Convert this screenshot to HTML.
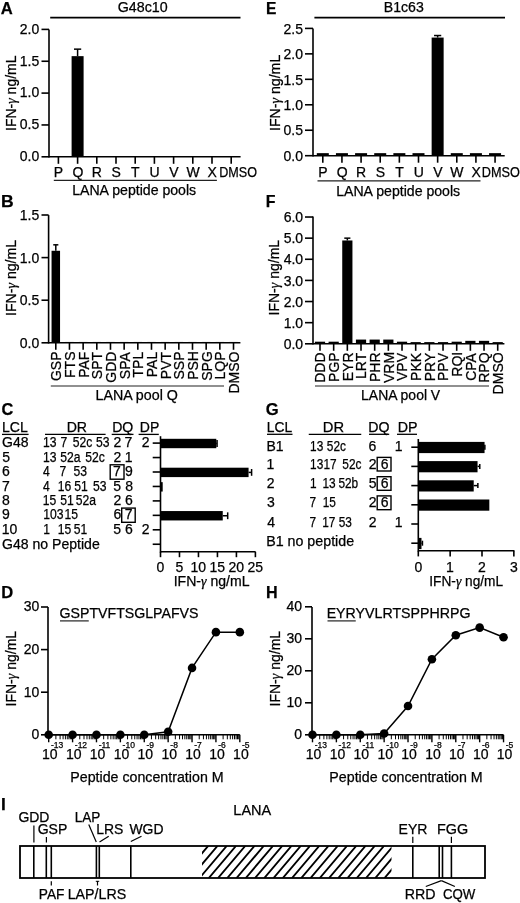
<!DOCTYPE html>
<html><head><meta charset="utf-8"><style>
html,body{margin:0;padding:0;background:#fff;}
svg{display:block;will-change:transform;}
text{font-family:"Liberation Sans",sans-serif;stroke:#000;stroke-width:0.25px;}
</style></head><body>
<svg width="520" height="903" viewBox="0 0 520 903" font-family="Liberation Sans, sans-serif" fill="#000">
<rect width="520" height="903" fill="#fff"/>
<text x="0.84" y="13.85" font-size="17" font-weight="bold" textLength="12.01" lengthAdjust="spacingAndGlyphs">A</text>
<text x="117.79" y="12.3" font-size="14" font-weight="normal" textLength="49.92" lengthAdjust="spacingAndGlyphs">G48c10</text>
<line x1="50.2" y1="17.6" x2="240.5" y2="17.6" stroke="#000" stroke-width="1.7"/>
<line x1="49" y1="29.4" x2="49" y2="157.6" stroke="#000" stroke-width="1.6"/>
<line x1="49" y1="156.8" x2="240.6" y2="156.8" stroke="#000" stroke-width="1.6"/>
<line x1="41.5" y1="29.4" x2="49" y2="29.4" stroke="#000" stroke-width="1.6"/>
<text x="19.8" y="33.7" font-size="14" font-weight="normal">2.0</text>
<line x1="41.5" y1="61.25" x2="49" y2="61.25" stroke="#000" stroke-width="1.6"/>
<text x="19.8" y="65.55" font-size="14" font-weight="normal">1.5</text>
<line x1="41.5" y1="93.1" x2="49" y2="93.1" stroke="#000" stroke-width="1.6"/>
<text x="19.8" y="97.4" font-size="14" font-weight="normal">1.0</text>
<line x1="41.5" y1="124.95" x2="49" y2="124.95" stroke="#000" stroke-width="1.6"/>
<text x="19.8" y="129.25" font-size="14" font-weight="normal">0.5</text>
<line x1="41.5" y1="156.8" x2="49" y2="156.8" stroke="#000" stroke-width="1.6"/>
<text x="19.8" y="161.1" font-size="14" font-weight="normal">0.0</text>
<line x1="58.4" y1="156.8" x2="58.4" y2="163.8" stroke="#000" stroke-width="1.6"/>
<rect x="52.4" y="156.48" width="12" height="0.32" fill="#000"/>
<line x1="77.6" y1="156.8" x2="77.6" y2="163.8" stroke="#000" stroke-width="1.6"/>
<rect x="71.6" y="56.15" width="12" height="100.65" fill="#000"/>
<line x1="77.6" y1="56.15" x2="77.6" y2="49.15" stroke="#000" stroke-width="1.5"/>
<line x1="74" y1="49.15" x2="81.2" y2="49.15" stroke="#000" stroke-width="1.5"/>
<line x1="96.8" y1="156.8" x2="96.8" y2="163.8" stroke="#000" stroke-width="1.6"/>
<rect x="90.8" y="156.48" width="12" height="0.32" fill="#000"/>
<line x1="116" y1="156.8" x2="116" y2="163.8" stroke="#000" stroke-width="1.6"/>
<rect x="110" y="156.48" width="12" height="0.32" fill="#000"/>
<line x1="135.2" y1="156.8" x2="135.2" y2="163.8" stroke="#000" stroke-width="1.6"/>
<rect x="129.2" y="156.48" width="12" height="0.32" fill="#000"/>
<line x1="154.4" y1="156.8" x2="154.4" y2="163.8" stroke="#000" stroke-width="1.6"/>
<rect x="148.4" y="156.48" width="12" height="0.32" fill="#000"/>
<line x1="173.6" y1="156.8" x2="173.6" y2="163.8" stroke="#000" stroke-width="1.6"/>
<rect x="167.6" y="156.48" width="12" height="0.32" fill="#000"/>
<line x1="192.8" y1="156.8" x2="192.8" y2="163.8" stroke="#000" stroke-width="1.6"/>
<rect x="186.8" y="156.48" width="12" height="0.32" fill="#000"/>
<line x1="212" y1="156.8" x2="212" y2="163.8" stroke="#000" stroke-width="1.6"/>
<rect x="206" y="156.48" width="12" height="0.32" fill="#000"/>
<line x1="231.2" y1="156.8" x2="231.2" y2="163.8" stroke="#000" stroke-width="1.6"/>
<rect x="225.2" y="156.48" width="12" height="0.32" fill="#000"/>
<text x="53.73" y="177.1" font-size="14" font-weight="normal">P</text>
<text x="72.38" y="177.1" font-size="14" font-weight="normal">Q</text>
<text x="91.72" y="177.1" font-size="14" font-weight="normal">R</text>
<text x="111.55" y="177.1" font-size="14" font-weight="normal">S</text>
<text x="131.09" y="177.1" font-size="14" font-weight="normal">T</text>
<text x="149.56" y="177.1" font-size="14" font-weight="normal">U</text>
<text x="169.14" y="177.1" font-size="14" font-weight="normal">V</text>
<text x="186.38" y="177.1" font-size="14" font-weight="normal">W</text>
<text x="207.51" y="177.1" font-size="14" font-weight="normal">X</text>
<text x="219.19" y="177.1" font-size="14" font-weight="normal" textLength="37.74" lengthAdjust="spacingAndGlyphs">DMSO</text>
<line x1="53.8" y1="180.4" x2="216.9" y2="180.4" stroke="#222" stroke-width="1.15"/>
<text x="72.17" y="194.5" font-size="14" font-weight="normal" textLength="124.02" lengthAdjust="spacingAndGlyphs">LANA peptide pools</text>
<text transform="translate(15.8,0) rotate(-90)" x="-130.93" y="0" font-size="14" textLength="75.36" lengthAdjust="spacingAndGlyphs">IFN-<tspan font-family="Liberation Serif" font-style="italic">γ</tspan> ng/mL</text>
<text x="266.09" y="13.8" font-size="17" font-weight="bold" textLength="10.39" lengthAdjust="spacingAndGlyphs">E</text>
<text x="383.77" y="12.3" font-size="14" font-weight="normal" textLength="39.97" lengthAdjust="spacingAndGlyphs">B1c63</text>
<line x1="314.4" y1="17.6" x2="505" y2="17.6" stroke="#000" stroke-width="1.7"/>
<line x1="313" y1="28.5" x2="313" y2="156.5" stroke="#000" stroke-width="1.6"/>
<line x1="313" y1="155.7" x2="504.7" y2="155.7" stroke="#000" stroke-width="1.6"/>
<line x1="305" y1="28.4" x2="313" y2="28.4" stroke="#000" stroke-width="1.6"/>
<text x="283.5" y="33.6" font-size="14" font-weight="normal">2.5</text>
<line x1="305" y1="53.86" x2="313" y2="53.86" stroke="#000" stroke-width="1.6"/>
<text x="283.5" y="59.06" font-size="14" font-weight="normal">2.0</text>
<line x1="305" y1="79.32" x2="313" y2="79.32" stroke="#000" stroke-width="1.6"/>
<text x="283.5" y="84.52" font-size="14" font-weight="normal">1.5</text>
<line x1="305" y1="104.78" x2="313" y2="104.78" stroke="#000" stroke-width="1.6"/>
<text x="283.5" y="109.98" font-size="14" font-weight="normal">1.0</text>
<line x1="305" y1="130.24" x2="313" y2="130.24" stroke="#000" stroke-width="1.6"/>
<text x="283.5" y="135.44" font-size="14" font-weight="normal">0.5</text>
<line x1="305" y1="155.7" x2="313" y2="155.7" stroke="#000" stroke-width="1.6"/>
<text x="283.5" y="160.9" font-size="14" font-weight="normal">0.0</text>
<line x1="322.8" y1="155.7" x2="322.8" y2="162.7" stroke="#000" stroke-width="1.6"/>
<rect x="316.8" y="153.15" width="12" height="2.55" fill="#000"/>
<line x1="341.94" y1="155.7" x2="341.94" y2="162.7" stroke="#000" stroke-width="1.6"/>
<rect x="335.94" y="153.15" width="12" height="2.55" fill="#000"/>
<line x1="361.08" y1="155.7" x2="361.08" y2="162.7" stroke="#000" stroke-width="1.6"/>
<rect x="355.08" y="153.15" width="12" height="2.55" fill="#000"/>
<line x1="380.22" y1="155.7" x2="380.22" y2="162.7" stroke="#000" stroke-width="1.6"/>
<rect x="374.22" y="153.15" width="12" height="2.55" fill="#000"/>
<line x1="399.36" y1="155.7" x2="399.36" y2="162.7" stroke="#000" stroke-width="1.6"/>
<rect x="393.36" y="153.15" width="12" height="2.55" fill="#000"/>
<line x1="418.5" y1="155.7" x2="418.5" y2="162.7" stroke="#000" stroke-width="1.6"/>
<rect x="412.5" y="153.15" width="12" height="2.55" fill="#000"/>
<line x1="437.64" y1="155.7" x2="437.64" y2="162.7" stroke="#000" stroke-width="1.6"/>
<rect x="431.64" y="37.57" width="12" height="118.13" fill="#000"/>
<line x1="437.64" y1="37.57" x2="437.64" y2="35.53" stroke="#000" stroke-width="1.5"/>
<line x1="434.04" y1="35.53" x2="441.24" y2="35.53" stroke="#000" stroke-width="1.5"/>
<line x1="456.78" y1="155.7" x2="456.78" y2="162.7" stroke="#000" stroke-width="1.6"/>
<rect x="450.78" y="153.15" width="12" height="2.55" fill="#000"/>
<line x1="475.92" y1="155.7" x2="475.92" y2="162.7" stroke="#000" stroke-width="1.6"/>
<rect x="469.92" y="153.15" width="12" height="2.55" fill="#000"/>
<line x1="495.06" y1="155.7" x2="495.06" y2="162.7" stroke="#000" stroke-width="1.6"/>
<rect x="489.06" y="153.15" width="12" height="2.55" fill="#000"/>
<text x="318.13" y="177.1" font-size="14" font-weight="normal">P</text>
<text x="336.71" y="177.1" font-size="14" font-weight="normal">Q</text>
<text x="356" y="177.1" font-size="14" font-weight="normal">R</text>
<text x="375.77" y="177.1" font-size="14" font-weight="normal">S</text>
<text x="395.25" y="177.1" font-size="14" font-weight="normal">T</text>
<text x="413.66" y="177.1" font-size="14" font-weight="normal">U</text>
<text x="433.19" y="177.1" font-size="14" font-weight="normal">V</text>
<text x="450.37" y="177.1" font-size="14" font-weight="normal">W</text>
<text x="471.43" y="177.1" font-size="14" font-weight="normal">X</text>
<text x="481.79" y="177.1" font-size="14" font-weight="normal" textLength="38.05" lengthAdjust="spacingAndGlyphs">DMSO</text>
<line x1="317.5" y1="180.8" x2="480.5" y2="180.8" stroke="#222" stroke-width="1.15"/>
<text x="336.17" y="195.5" font-size="14" font-weight="normal" textLength="124.02" lengthAdjust="spacingAndGlyphs">LANA peptide pools</text>
<text transform="translate(280.3,0) rotate(-90)" x="-130.95" y="0" font-size="14" textLength="76.18" lengthAdjust="spacingAndGlyphs">IFN-<tspan font-family="Liberation Serif" font-style="italic">γ</tspan> ng/mL</text>
<text x="1.06" y="206.9" font-size="17" font-weight="bold" textLength="12.67" lengthAdjust="spacingAndGlyphs">B</text>
<line x1="48.6" y1="215.1" x2="48.6" y2="343.6" stroke="#000" stroke-width="1.6"/>
<line x1="48.6" y1="342.8" x2="240.4" y2="342.8" stroke="#000" stroke-width="1.6"/>
<line x1="41.5" y1="215" x2="48.6" y2="215" stroke="#000" stroke-width="1.6"/>
<text x="19.8" y="220.1" font-size="14" font-weight="normal">1.5</text>
<line x1="41.5" y1="257.6" x2="48.6" y2="257.6" stroke="#000" stroke-width="1.6"/>
<text x="19.8" y="262.7" font-size="14" font-weight="normal">1.0</text>
<line x1="41.5" y1="300.2" x2="48.6" y2="300.2" stroke="#000" stroke-width="1.6"/>
<text x="19.8" y="305.3" font-size="14" font-weight="normal">0.5</text>
<line x1="41.5" y1="342.8" x2="48.6" y2="342.8" stroke="#000" stroke-width="1.6"/>
<text x="19.8" y="347.9" font-size="14" font-weight="normal">0.0</text>
<line x1="55.8" y1="342.8" x2="55.8" y2="349.8" stroke="#000" stroke-width="1.6"/>
<rect x="51.55" y="250.78" width="8.5" height="92.02" fill="#000"/>
<line x1="55.8" y1="250.78" x2="55.8" y2="244.82" stroke="#000" stroke-width="1.5"/>
<line x1="53.25" y1="244.82" x2="58.35" y2="244.82" stroke="#000" stroke-width="1.5"/>
<line x1="69.47" y1="342.8" x2="69.47" y2="349.8" stroke="#000" stroke-width="1.6"/>
<rect x="65.22" y="341.95" width="8.5" height="0.85" fill="#000"/>
<line x1="83.14" y1="342.8" x2="83.14" y2="349.8" stroke="#000" stroke-width="1.6"/>
<rect x="78.89" y="341.95" width="8.5" height="0.85" fill="#000"/>
<line x1="96.81" y1="342.8" x2="96.81" y2="349.8" stroke="#000" stroke-width="1.6"/>
<rect x="92.56" y="341.95" width="8.5" height="0.85" fill="#000"/>
<line x1="110.48" y1="342.8" x2="110.48" y2="349.8" stroke="#000" stroke-width="1.6"/>
<rect x="106.23" y="341.95" width="8.5" height="0.85" fill="#000"/>
<line x1="124.15" y1="342.8" x2="124.15" y2="349.8" stroke="#000" stroke-width="1.6"/>
<rect x="119.9" y="341.95" width="8.5" height="0.85" fill="#000"/>
<line x1="137.82" y1="342.8" x2="137.82" y2="349.8" stroke="#000" stroke-width="1.6"/>
<rect x="133.57" y="341.95" width="8.5" height="0.85" fill="#000"/>
<line x1="151.49" y1="342.8" x2="151.49" y2="349.8" stroke="#000" stroke-width="1.6"/>
<rect x="147.24" y="341.95" width="8.5" height="0.85" fill="#000"/>
<line x1="165.16" y1="342.8" x2="165.16" y2="349.8" stroke="#000" stroke-width="1.6"/>
<rect x="160.91" y="341.95" width="8.5" height="0.85" fill="#000"/>
<line x1="178.83" y1="342.8" x2="178.83" y2="349.8" stroke="#000" stroke-width="1.6"/>
<rect x="174.58" y="341.95" width="8.5" height="0.85" fill="#000"/>
<line x1="192.5" y1="342.8" x2="192.5" y2="349.8" stroke="#000" stroke-width="1.6"/>
<rect x="188.25" y="341.95" width="8.5" height="0.85" fill="#000"/>
<line x1="206.17" y1="342.8" x2="206.17" y2="349.8" stroke="#000" stroke-width="1.6"/>
<rect x="201.92" y="341.95" width="8.5" height="0.85" fill="#000"/>
<line x1="219.84" y1="342.8" x2="219.84" y2="349.8" stroke="#000" stroke-width="1.6"/>
<rect x="215.59" y="341.95" width="8.5" height="0.85" fill="#000"/>
<line x1="233.51" y1="342.8" x2="233.51" y2="349.8" stroke="#000" stroke-width="1.6"/>
<rect x="229.26" y="341.95" width="8.5" height="0.85" fill="#000"/>
<text transform="translate(61.2,0) rotate(-90)" x="-381.04" y="0" font-size="14">GSP</text>
<text transform="translate(74.87,0) rotate(-90)" x="-377.96" y="0" font-size="14">FTS</text>
<text transform="translate(88.54,0) rotate(-90)" x="-377.82" y="0" font-size="14">PAF</text>
<text transform="translate(102.21,0) rotate(-90)" x="-379.15" y="0" font-size="14">SPT</text>
<text transform="translate(115.88,0) rotate(-90)" x="-382.65" y="0" font-size="14">GDD</text>
<text transform="translate(129.55,0) rotate(-90)" x="-379.15" y="0" font-size="14">SPA</text>
<text transform="translate(143.22,0) rotate(-90)" x="-377.47" y="0" font-size="14">TPL</text>
<text transform="translate(156.89,0) rotate(-90)" x="-377.19" y="0" font-size="14">PAL</text>
<text transform="translate(170.56,0) rotate(-90)" x="-379.15" y="0" font-size="14">PVT</text>
<text transform="translate(184.23,0) rotate(-90)" x="-379.5" y="0" font-size="14">SSP</text>
<text transform="translate(197.9,0) rotate(-90)" x="-379.85" y="0" font-size="14">PSH</text>
<text transform="translate(211.57,0) rotate(-90)" x="-380.76" y="0" font-size="14">SPG</text>
<text transform="translate(225.24,0) rotate(-90)" x="-379.5" y="0" font-size="14">LQP</text>
<text transform="translate(238.91,0) rotate(-90)" x="-393.5" y="0" font-size="14">DMSO</text>
<line x1="50.8" y1="386" x2="224" y2="386" stroke="#222" stroke-width="1.15"/>
<text x="95.46" y="400.4" font-size="14" font-weight="normal" textLength="82.4" lengthAdjust="spacingAndGlyphs">LANA pool Q</text>
<text transform="translate(16,0) rotate(-90)" x="-315.94" y="0" font-size="14" textLength="76.07" lengthAdjust="spacingAndGlyphs">IFN-<tspan font-family="Liberation Serif" font-style="italic">γ</tspan> ng/mL</text>
<text x="265.77" y="206.9" font-size="17" font-weight="bold" textLength="9.7" lengthAdjust="spacingAndGlyphs">F</text>
<line x1="313" y1="216.5" x2="313" y2="344.6" stroke="#000" stroke-width="1.6"/>
<line x1="313" y1="343.8" x2="504.4" y2="343.8" stroke="#000" stroke-width="1.6"/>
<line x1="305" y1="217.02" x2="313" y2="217.02" stroke="#000" stroke-width="1.6"/>
<text x="283.7" y="222.12" font-size="14" font-weight="normal">6.0</text>
<line x1="305" y1="238.15" x2="313" y2="238.15" stroke="#000" stroke-width="1.6"/>
<text x="283.7" y="243.25" font-size="14" font-weight="normal">5.0</text>
<line x1="305" y1="259.28" x2="313" y2="259.28" stroke="#000" stroke-width="1.6"/>
<text x="283.7" y="264.38" font-size="14" font-weight="normal">4.0</text>
<line x1="305" y1="280.41" x2="313" y2="280.41" stroke="#000" stroke-width="1.6"/>
<text x="283.7" y="285.51" font-size="14" font-weight="normal">3.0</text>
<line x1="305" y1="301.54" x2="313" y2="301.54" stroke="#000" stroke-width="1.6"/>
<text x="283.7" y="306.64" font-size="14" font-weight="normal">2.0</text>
<line x1="305" y1="322.67" x2="313" y2="322.67" stroke="#000" stroke-width="1.6"/>
<text x="283.7" y="327.77" font-size="14" font-weight="normal">1.0</text>
<line x1="305" y1="343.8" x2="313" y2="343.8" stroke="#000" stroke-width="1.6"/>
<text x="283.7" y="348.9" font-size="14" font-weight="normal">0.0</text>
<line x1="320" y1="343.8" x2="320" y2="350.8" stroke="#000" stroke-width="1.6"/>
<rect x="314.9" y="341.69" width="10.2" height="2.11" fill="#000"/>
<line x1="333.67" y1="343.8" x2="333.67" y2="350.8" stroke="#000" stroke-width="1.6"/>
<rect x="328.57" y="341.69" width="10.2" height="2.11" fill="#000"/>
<line x1="347.34" y1="343.8" x2="347.34" y2="350.8" stroke="#000" stroke-width="1.6"/>
<rect x="342.24" y="240.47" width="10.2" height="103.33" fill="#000"/>
<line x1="347.34" y1="240.47" x2="347.34" y2="238.15" stroke="#000" stroke-width="1.5"/>
<line x1="344.28" y1="238.15" x2="350.4" y2="238.15" stroke="#000" stroke-width="1.5"/>
<line x1="361.01" y1="343.8" x2="361.01" y2="350.8" stroke="#000" stroke-width="1.6"/>
<rect x="355.91" y="339.57" width="10.2" height="4.23" fill="#000"/>
<line x1="374.68" y1="343.8" x2="374.68" y2="350.8" stroke="#000" stroke-width="1.6"/>
<rect x="369.58" y="339.57" width="10.2" height="4.23" fill="#000"/>
<line x1="388.35" y1="343.8" x2="388.35" y2="350.8" stroke="#000" stroke-width="1.6"/>
<rect x="383.25" y="339.57" width="10.2" height="4.23" fill="#000"/>
<line x1="402.02" y1="343.8" x2="402.02" y2="350.8" stroke="#000" stroke-width="1.6"/>
<rect x="396.92" y="341.69" width="10.2" height="2.11" fill="#000"/>
<line x1="415.69" y1="343.8" x2="415.69" y2="350.8" stroke="#000" stroke-width="1.6"/>
<rect x="410.59" y="342.11" width="10.2" height="1.69" fill="#000"/>
<line x1="429.36" y1="343.8" x2="429.36" y2="350.8" stroke="#000" stroke-width="1.6"/>
<rect x="424.26" y="342.11" width="10.2" height="1.69" fill="#000"/>
<line x1="443.03" y1="343.8" x2="443.03" y2="350.8" stroke="#000" stroke-width="1.6"/>
<rect x="437.93" y="342.11" width="10.2" height="1.69" fill="#000"/>
<line x1="456.7" y1="343.8" x2="456.7" y2="350.8" stroke="#000" stroke-width="1.6"/>
<rect x="451.6" y="341.69" width="10.2" height="2.11" fill="#000"/>
<line x1="470.37" y1="343.8" x2="470.37" y2="350.8" stroke="#000" stroke-width="1.6"/>
<rect x="465.27" y="340.84" width="10.2" height="2.96" fill="#000"/>
<line x1="484.04" y1="343.8" x2="484.04" y2="350.8" stroke="#000" stroke-width="1.6"/>
<rect x="478.94" y="340.84" width="10.2" height="2.96" fill="#000"/>
<line x1="497.71" y1="343.8" x2="497.71" y2="350.8" stroke="#000" stroke-width="1.6"/>
<rect x="492.61" y="342.11" width="10.2" height="1.69" fill="#000"/>
<text transform="translate(325.4,0) rotate(-90)" x="-382.78" y="0" font-size="14">DDD</text>
<text transform="translate(339.07,0) rotate(-90)" x="-381.94" y="0" font-size="14">PGP</text>
<text transform="translate(352.74,0) rotate(-90)" x="-381.24" y="0" font-size="14">EYR</text>
<text transform="translate(366.41,0) rotate(-90)" x="-379" y="0" font-size="14">LRT</text>
<text transform="translate(380.08,0) rotate(-90)" x="-382.01" y="0" font-size="14">PHR</text>
<text transform="translate(393.75,0) rotate(-90)" x="-383.06" y="0" font-size="14">VRM</text>
<text transform="translate(407.42,0) rotate(-90)" x="-381.03" y="0" font-size="14">VPV</text>
<text transform="translate(421.09,0) rotate(-90)" x="-380.96" y="0" font-size="14">PKK</text>
<text transform="translate(434.76,0) rotate(-90)" x="-381.31" y="0" font-size="14">PRY</text>
<text transform="translate(448.43,0) rotate(-90)" x="-381.03" y="0" font-size="14">PPV</text>
<text transform="translate(462.1,0) rotate(-90)" x="-376.69" y="0" font-size="14">RQI</text>
<text transform="translate(475.77,0) rotate(-90)" x="-380.82" y="0" font-size="14">CPA</text>
<text transform="translate(489.44,0) rotate(-90)" x="-382.78" y="0" font-size="14">RPQ</text>
<text transform="translate(503.11,0) rotate(-90)" x="-394.4" y="0" font-size="14">DMSO</text>
<line x1="315" y1="386" x2="489" y2="386" stroke="#222" stroke-width="1.15"/>
<text x="361.08" y="400.2" font-size="14" font-weight="normal" textLength="79.09" lengthAdjust="spacingAndGlyphs">LANA pool V</text>
<text transform="translate(279.3,0) rotate(-90)" x="-315.44" y="0" font-size="14" textLength="75.56" lengthAdjust="spacingAndGlyphs">IFN-<tspan font-family="Liberation Serif" font-style="italic">γ</tspan> ng/mL</text>
<text x="1.5" y="414.5" font-size="17" font-weight="bold" textLength="11.8" lengthAdjust="spacingAndGlyphs">C</text>
<text x="1.97" y="431.6" font-size="14" font-weight="normal" textLength="25.84" lengthAdjust="spacingAndGlyphs">LCL</text>
<line x1="2" y1="434.4" x2="28.6" y2="434.4" stroke="#000" stroke-width="1.3"/>
<text x="66.67" y="431.6" font-size="14" font-weight="normal" textLength="20.43" lengthAdjust="spacingAndGlyphs">DR</text>
<line x1="45" y1="434.4" x2="105.6" y2="434.4" stroke="#000" stroke-width="1.3"/>
<text x="112.17" y="431.6" font-size="14" font-weight="normal" textLength="21.13" lengthAdjust="spacingAndGlyphs">DQ</text>
<line x1="111.7" y1="434.4" x2="133.5" y2="434.4" stroke="#000" stroke-width="1.3"/>
<text x="139.78" y="431.6" font-size="14" font-weight="normal" textLength="19.48" lengthAdjust="spacingAndGlyphs">DP</text>
<line x1="138.6" y1="434.4" x2="158.8" y2="434.4" stroke="#000" stroke-width="1.3"/>
<text x="2" y="447.3" font-size="14" font-weight="normal">G48</text>
<text x="42.98" y="447.3" font-size="13.8" textLength="13.51" lengthAdjust="spacingAndGlyphs">13</text>
<text x="60.53" y="447.3" font-size="13.8" textLength="6.75" lengthAdjust="spacingAndGlyphs">7</text>
<text x="72.63" y="447.3" font-size="13.8" textLength="19.58" lengthAdjust="spacingAndGlyphs">52c</text>
<text x="95.99" y="447.3" font-size="13.8" textLength="13.51" lengthAdjust="spacingAndGlyphs">53</text>
<text x="113.61" y="447.3" font-size="14">2</text>
<text x="124.61" y="447.3" font-size="14">7</text>
<text x="141.77" y="447.3" font-size="14">2</text>
<text x="2.14" y="461.7" font-size="14" font-weight="normal">5</text>
<text x="42.98" y="461.7" font-size="13.8" textLength="13.51" lengthAdjust="spacingAndGlyphs">13</text>
<text x="60.15" y="461.7" font-size="13.8" textLength="20.26" lengthAdjust="spacingAndGlyphs">52a</text>
<text x="85.18" y="461.7" font-size="13.8" textLength="19.58" lengthAdjust="spacingAndGlyphs">52c</text>
<text x="113.61" y="461.7" font-size="14">2</text>
<text x="124.64" y="461.7" font-size="14">1</text>
<text x="2" y="476.3" font-size="14" font-weight="normal">6</text>
<text x="42.91" y="476.3" font-size="13.8" textLength="6.75" lengthAdjust="spacingAndGlyphs">4</text>
<text x="59.48" y="476.3" font-size="13.8" textLength="6.75" lengthAdjust="spacingAndGlyphs">7</text>
<text x="73.44" y="476.3" font-size="13.8" textLength="13.51" lengthAdjust="spacingAndGlyphs">53</text>
<text x="113.02" y="476.3" font-size="14">7</text>
<text x="124.92" y="476.3" font-size="14">9</text>
<text x="2" y="490.8" font-size="14" font-weight="normal">7</text>
<text x="42.91" y="490.8" font-size="13.8" textLength="6.75" lengthAdjust="spacingAndGlyphs">4</text>
<text x="57.68" y="490.8" font-size="13.8" textLength="13.51" lengthAdjust="spacingAndGlyphs">16</text>
<text x="74.17" y="490.8" font-size="13.8" textLength="13.51" lengthAdjust="spacingAndGlyphs">51</text>
<text x="93.04" y="490.8" font-size="13.8" textLength="13.51" lengthAdjust="spacingAndGlyphs">53</text>
<text x="113.27" y="490.8" font-size="14">5</text>
<text x="125.13" y="490.8" font-size="14">8</text>
<text x="2.07" y="505.2" font-size="14" font-weight="normal">8</text>
<text x="42.75" y="505.2" font-size="13.8" textLength="13.51" lengthAdjust="spacingAndGlyphs">15</text>
<text x="60.32" y="505.2" font-size="13.8" textLength="13.51" lengthAdjust="spacingAndGlyphs">51</text>
<text x="75.7" y="505.2" font-size="13.8" textLength="20.26" lengthAdjust="spacingAndGlyphs">52a</text>
<text x="113.61" y="505.2" font-size="14">2</text>
<text x="125.03" y="505.2" font-size="14">6</text>
<text x="2.07" y="519.2" font-size="14" font-weight="normal">9</text>
<text x="43.26" y="519.2" font-size="13.8" textLength="20.26" lengthAdjust="spacingAndGlyphs">103</text>
<text x="64.55" y="519.2" font-size="13.8" textLength="13.51" lengthAdjust="spacingAndGlyphs">15</text>
<text x="113.53" y="519.2" font-size="14">6</text>
<text x="124.77" y="519.2" font-size="14">7</text>
<text x="1.65" y="533.8" font-size="14" font-weight="normal">10</text>
<text x="43.23" y="533.8" font-size="13.8" textLength="6.75" lengthAdjust="spacingAndGlyphs">1</text>
<text x="57.85" y="533.8" font-size="13.8" textLength="13.51" lengthAdjust="spacingAndGlyphs">15</text>
<text x="73.87" y="533.8" font-size="13.8" textLength="13.51" lengthAdjust="spacingAndGlyphs">51</text>
<text x="113.31" y="533.8" font-size="14">5</text>
<text x="125.03" y="533.8" font-size="14">6</text>
<text x="141.77" y="533.8" font-size="14">2</text>
<rect x="110.2" y="464.8" width="13.8" height="14.4" fill="none" stroke="#000" stroke-width="1.4"/>
<rect x="121.7" y="508.1" width="13.5" height="14.2" fill="none" stroke="#000" stroke-width="1.4"/>
<text x="2.1" y="548.8" font-size="14" font-weight="normal" textLength="97.63" lengthAdjust="spacingAndGlyphs">G48 no Peptide</text>
<line x1="160.5" y1="436.2" x2="160.5" y2="552.6" stroke="#000" stroke-width="1.6"/>
<line x1="160.5" y1="551.8" x2="255.6" y2="551.8" stroke="#000" stroke-width="1.6"/>
<line x1="152.7" y1="443.1" x2="160.5" y2="443.1" stroke="#000" stroke-width="1.6"/>
<line x1="152.7" y1="457.55" x2="160.5" y2="457.55" stroke="#000" stroke-width="1.6"/>
<line x1="152.7" y1="472" x2="160.5" y2="472" stroke="#000" stroke-width="1.6"/>
<line x1="152.7" y1="486.45" x2="160.5" y2="486.45" stroke="#000" stroke-width="1.6"/>
<line x1="152.7" y1="500.9" x2="160.5" y2="500.9" stroke="#000" stroke-width="1.6"/>
<line x1="152.7" y1="515.35" x2="160.5" y2="515.35" stroke="#000" stroke-width="1.6"/>
<line x1="152.7" y1="529.8" x2="160.5" y2="529.8" stroke="#000" stroke-width="1.6"/>
<line x1="152.7" y1="544.25" x2="160.5" y2="544.25" stroke="#000" stroke-width="1.6"/>
<rect x="160.5" y="438.8" width="55.8" height="9.4" fill="#000"/>
<line x1="216.3" y1="443.5" x2="217.06" y2="443.5" stroke="#000" stroke-width="1.5"/>
<line x1="217.06" y1="440.1" x2="217.06" y2="446.9" stroke="#000" stroke-width="1.5"/>
<rect x="160.5" y="467.7" width="88.07" height="9.4" fill="#000"/>
<line x1="248.57" y1="472.4" x2="251.6" y2="472.4" stroke="#000" stroke-width="1.5"/>
<line x1="251.6" y1="469" x2="251.6" y2="475.8" stroke="#000" stroke-width="1.5"/>
<rect x="160.5" y="482.15" width="2.2" height="9.4" fill="#000"/>
<rect x="160.5" y="511.05" width="62.25" height="9.4" fill="#000"/>
<line x1="222.75" y1="515.75" x2="227.69" y2="515.75" stroke="#000" stroke-width="1.5"/>
<line x1="227.69" y1="512.35" x2="227.69" y2="519.15" stroke="#000" stroke-width="1.5"/>
<line x1="160.5" y1="551.8" x2="160.5" y2="557.2" stroke="#000" stroke-width="1.6"/>
<text x="156.62" y="571.8" font-size="14" font-weight="normal">0</text>
<line x1="179.48" y1="551.8" x2="179.48" y2="557.2" stroke="#000" stroke-width="1.6"/>
<text x="175.59" y="571.8" font-size="14" font-weight="normal">5</text>
<line x1="198.46" y1="551.8" x2="198.46" y2="557.2" stroke="#000" stroke-width="1.6"/>
<text x="190.44" y="571.8" font-size="14" font-weight="normal">10</text>
<line x1="217.44" y1="551.8" x2="217.44" y2="557.2" stroke="#000" stroke-width="1.6"/>
<text x="209.43" y="571.8" font-size="14" font-weight="normal">15</text>
<line x1="236.42" y1="551.8" x2="236.42" y2="557.2" stroke="#000" stroke-width="1.6"/>
<text x="228.58" y="571.8" font-size="14" font-weight="normal">20</text>
<line x1="255.4" y1="551.8" x2="255.4" y2="557.2" stroke="#000" stroke-width="1.6"/>
<text x="247.56" y="571.8" font-size="14" font-weight="normal">25</text>
<text x="173.66" y="586" font-size="14" font-weight="normal" textLength="75.87" lengthAdjust="spacingAndGlyphs">IFN-<tspan font-family="Liberation Serif" font-style="italic">γ</tspan> ng/mL</text>
<text x="265.84" y="414.8" font-size="17" font-weight="bold" textLength="12.91" lengthAdjust="spacingAndGlyphs">G</text>
<text x="266.69" y="431.9" font-size="14" font-weight="normal" textLength="25.42" lengthAdjust="spacingAndGlyphs">LCL</text>
<line x1="267" y1="434.3" x2="292.5" y2="434.3" stroke="#000" stroke-width="1.3"/>
<text x="322.87" y="431.9" font-size="14" font-weight="normal" textLength="21.31" lengthAdjust="spacingAndGlyphs">DR</text>
<line x1="308.75" y1="434.3" x2="361.25" y2="434.3" stroke="#000" stroke-width="1.3"/>
<text x="368.37" y="431.9" font-size="14" font-weight="normal" textLength="21.24" lengthAdjust="spacingAndGlyphs">DQ</text>
<line x1="369" y1="434.3" x2="389.2" y2="434.3" stroke="#000" stroke-width="1.3"/>
<text x="397.66" y="431.9" font-size="14" font-weight="normal" textLength="19.81" lengthAdjust="spacingAndGlyphs">DP</text>
<line x1="397" y1="434.3" x2="417" y2="434.3" stroke="#000" stroke-width="1.3"/>
<text x="266.38" y="450.5" font-size="14" font-weight="normal">B1</text>
<text x="310.09" y="450.5" font-size="13.8" textLength="13.2" lengthAdjust="spacingAndGlyphs">13</text>
<text x="326.86" y="450.5" font-size="13.8" textLength="19.14" lengthAdjust="spacingAndGlyphs">52c</text>
<text x="368.53" y="450.5" font-size="14">6</text>
<text x="394.79" y="450.5" font-size="14">1</text>
<text x="266.45" y="469.1" font-size="14" font-weight="normal">1</text>
<text x="310.09" y="469.1" font-size="13.8" textLength="13.2" lengthAdjust="spacingAndGlyphs">13</text>
<text x="323.41" y="469.1" font-size="13.8" textLength="13.2" lengthAdjust="spacingAndGlyphs">17</text>
<text x="342.36" y="469.1" font-size="13.8" textLength="19.14" lengthAdjust="spacingAndGlyphs">52c</text>
<text x="368.81" y="469.1" font-size="14">2</text>
<text x="380.63" y="469.1" font-size="14">6</text>
<text x="266.8" y="488.1" font-size="14" font-weight="normal">2</text>
<text x="310.06" y="488.1" font-size="13.8" textLength="6.6" lengthAdjust="spacingAndGlyphs">1</text>
<text x="322.49" y="488.1" font-size="13.8" textLength="13.2" lengthAdjust="spacingAndGlyphs">13</text>
<text x="338.42" y="488.1" font-size="13.8" textLength="19.8" lengthAdjust="spacingAndGlyphs">52b</text>
<text x="368.72" y="488.1" font-size="14">5</text>
<text x="380.63" y="488.1" font-size="14">6</text>
<text x="266.94" y="507.3" font-size="14" font-weight="normal">3</text>
<text x="309.46" y="507.3" font-size="13.8" textLength="6.6" lengthAdjust="spacingAndGlyphs">7</text>
<text x="322.76" y="507.3" font-size="13.8" textLength="13.2" lengthAdjust="spacingAndGlyphs">15</text>
<text x="368.81" y="507.3" font-size="14">2</text>
<text x="380.63" y="507.3" font-size="14">6</text>
<text x="267.15" y="526.6" font-size="14" font-weight="normal">4</text>
<text x="309.46" y="526.6" font-size="13.8" textLength="6.6" lengthAdjust="spacingAndGlyphs">7</text>
<text x="322.21" y="526.6" font-size="13.8" textLength="13.2" lengthAdjust="spacingAndGlyphs">17</text>
<text x="338.69" y="526.6" font-size="13.8" textLength="13.2" lengthAdjust="spacingAndGlyphs">53</text>
<text x="368.81" y="526.6" font-size="14">2</text>
<text x="394.79" y="526.6" font-size="14">1</text>
<rect x="377.2" y="457.4" width="13.8" height="13.6" fill="none" stroke="#000" stroke-width="1.4"/>
<rect x="377.2" y="476.7" width="13.8" height="13.6" fill="none" stroke="#000" stroke-width="1.4"/>
<rect x="377.2" y="495.9" width="13.8" height="13.8" fill="none" stroke="#000" stroke-width="1.4"/>
<text x="266.16" y="545.5" font-size="14" font-weight="normal" textLength="87.96" lengthAdjust="spacingAndGlyphs">B1 no peptide</text>
<line x1="418.3" y1="439" x2="418.3" y2="551.6" stroke="#000" stroke-width="1.6"/>
<line x1="418.3" y1="550.8" x2="514.4" y2="550.8" stroke="#000" stroke-width="1.6"/>
<line x1="411.3" y1="447.2" x2="418.3" y2="447.2" stroke="#000" stroke-width="1.6"/>
<line x1="411.3" y1="466.4" x2="418.3" y2="466.4" stroke="#000" stroke-width="1.6"/>
<line x1="411.3" y1="485.6" x2="418.3" y2="485.6" stroke="#000" stroke-width="1.6"/>
<line x1="411.3" y1="504.8" x2="418.3" y2="504.8" stroke="#000" stroke-width="1.6"/>
<line x1="411.3" y1="524" x2="418.3" y2="524" stroke="#000" stroke-width="1.6"/>
<line x1="411.3" y1="543.2" x2="418.3" y2="543.2" stroke="#000" stroke-width="1.6"/>
<rect x="418.3" y="441.9" width="66.25" height="11.2" fill="#000"/>
<line x1="484.55" y1="447.2" x2="484.87" y2="447.2" stroke="#000" stroke-width="1.5"/>
<line x1="484.87" y1="444.7" x2="484.87" y2="449.7" stroke="#000" stroke-width="1.5"/>
<rect x="418.3" y="461.1" width="59.24" height="11.2" fill="#000"/>
<line x1="477.54" y1="466.4" x2="479.77" y2="466.4" stroke="#000" stroke-width="1.5"/>
<line x1="479.77" y1="463.9" x2="479.77" y2="468.9" stroke="#000" stroke-width="1.5"/>
<rect x="418.3" y="480.3" width="55.42" height="11.2" fill="#000"/>
<line x1="473.72" y1="485.6" x2="477.86" y2="485.6" stroke="#000" stroke-width="1.5"/>
<line x1="477.86" y1="483.1" x2="477.86" y2="488.1" stroke="#000" stroke-width="1.5"/>
<rect x="418.3" y="499.5" width="71.03" height="11.2" fill="#000"/>
<rect x="418.3" y="537.9" width="3.19" height="11.2" fill="#000"/>
<line x1="421.49" y1="543.2" x2="422.44" y2="543.2" stroke="#000" stroke-width="1.5"/>
<line x1="422.44" y1="540.7" x2="422.44" y2="545.7" stroke="#000" stroke-width="1.5"/>
<line x1="418.3" y1="550.8" x2="418.3" y2="556.4" stroke="#000" stroke-width="1.6"/>
<text x="414.42" y="572.3" font-size="14" font-weight="normal">0</text>
<line x1="450.15" y1="550.8" x2="450.15" y2="556.4" stroke="#000" stroke-width="1.6"/>
<text x="446.09" y="572.3" font-size="14" font-weight="normal">1</text>
<line x1="482" y1="550.8" x2="482" y2="556.4" stroke="#000" stroke-width="1.6"/>
<text x="478.12" y="572.3" font-size="14" font-weight="normal">2</text>
<line x1="513.85" y1="550.8" x2="513.85" y2="556.4" stroke="#000" stroke-width="1.6"/>
<text x="510" y="572.3" font-size="14" font-weight="normal">3</text>
<text x="429.29" y="586" font-size="14" font-weight="normal" textLength="73.83" lengthAdjust="spacingAndGlyphs">IFN-<tspan font-family="Liberation Serif" font-style="italic">γ</tspan> ng/mL</text>
<text x="1.32" y="597.9" font-size="17" font-weight="bold" textLength="11.98" lengthAdjust="spacingAndGlyphs">D</text>
<line x1="48" y1="607" x2="48" y2="735.6" stroke="#000" stroke-width="1.6"/>
<line x1="48" y1="734.8" x2="239.82" y2="734.8" stroke="#000" stroke-width="1.6"/>
<line x1="41" y1="607" x2="48" y2="607" stroke="#000" stroke-width="1.6"/>
<text x="23.77" y="611.4" font-size="14" font-weight="normal">30</text>
<line x1="41" y1="649.6" x2="48" y2="649.6" stroke="#000" stroke-width="1.6"/>
<text x="23.77" y="654" font-size="14" font-weight="normal">20</text>
<line x1="41" y1="692.2" x2="48" y2="692.2" stroke="#000" stroke-width="1.6"/>
<text x="23.77" y="696.6" font-size="14" font-weight="normal">10</text>
<line x1="41" y1="734.8" x2="48" y2="734.8" stroke="#000" stroke-width="1.6"/>
<text x="31.54" y="739.2" font-size="14" font-weight="normal">0</text>
<line x1="48.7" y1="734.8" x2="48.7" y2="742.3" stroke="#000" stroke-width="1.4"/>
<line x1="55.89" y1="734.8" x2="55.89" y2="739.3" stroke="#000" stroke-width="1.0"/>
<line x1="60.1" y1="734.8" x2="60.1" y2="739.3" stroke="#000" stroke-width="1.0"/>
<line x1="63.08" y1="734.8" x2="63.08" y2="739.3" stroke="#000" stroke-width="1.0"/>
<line x1="65.4" y1="734.8" x2="65.4" y2="739.3" stroke="#000" stroke-width="1.0"/>
<line x1="67.29" y1="734.8" x2="67.29" y2="739.3" stroke="#000" stroke-width="1.0"/>
<line x1="68.89" y1="734.8" x2="68.89" y2="739.3" stroke="#000" stroke-width="1.0"/>
<line x1="70.27" y1="734.8" x2="70.27" y2="739.3" stroke="#000" stroke-width="1.0"/>
<line x1="71.5" y1="734.8" x2="71.5" y2="739.3" stroke="#000" stroke-width="1.0"/>
<text x="41.98" y="759" font-size="14" font-weight="normal">10</text>
<text x="50.92" y="748" font-size="8.5" font-weight="normal">-13</text>
<line x1="72.59" y1="734.8" x2="72.59" y2="742.3" stroke="#000" stroke-width="1.4"/>
<line x1="79.78" y1="734.8" x2="79.78" y2="739.3" stroke="#000" stroke-width="1.0"/>
<line x1="83.99" y1="734.8" x2="83.99" y2="739.3" stroke="#000" stroke-width="1.0"/>
<line x1="86.97" y1="734.8" x2="86.97" y2="739.3" stroke="#000" stroke-width="1.0"/>
<line x1="89.29" y1="734.8" x2="89.29" y2="739.3" stroke="#000" stroke-width="1.0"/>
<line x1="91.18" y1="734.8" x2="91.18" y2="739.3" stroke="#000" stroke-width="1.0"/>
<line x1="92.78" y1="734.8" x2="92.78" y2="739.3" stroke="#000" stroke-width="1.0"/>
<line x1="94.16" y1="734.8" x2="94.16" y2="739.3" stroke="#000" stroke-width="1.0"/>
<line x1="95.39" y1="734.8" x2="95.39" y2="739.3" stroke="#000" stroke-width="1.0"/>
<text x="65.88" y="759" font-size="14" font-weight="normal">10</text>
<text x="74.81" y="748" font-size="8.5" font-weight="normal">-12</text>
<line x1="96.48" y1="734.8" x2="96.48" y2="742.3" stroke="#000" stroke-width="1.4"/>
<line x1="103.67" y1="734.8" x2="103.67" y2="739.3" stroke="#000" stroke-width="1.0"/>
<line x1="107.88" y1="734.8" x2="107.88" y2="739.3" stroke="#000" stroke-width="1.0"/>
<line x1="110.86" y1="734.8" x2="110.86" y2="739.3" stroke="#000" stroke-width="1.0"/>
<line x1="113.18" y1="734.8" x2="113.18" y2="739.3" stroke="#000" stroke-width="1.0"/>
<line x1="115.07" y1="734.8" x2="115.07" y2="739.3" stroke="#000" stroke-width="1.0"/>
<line x1="116.67" y1="734.8" x2="116.67" y2="739.3" stroke="#000" stroke-width="1.0"/>
<line x1="118.05" y1="734.8" x2="118.05" y2="739.3" stroke="#000" stroke-width="1.0"/>
<line x1="119.28" y1="734.8" x2="119.28" y2="739.3" stroke="#000" stroke-width="1.0"/>
<text x="89.77" y="759" font-size="14" font-weight="normal">10</text>
<text x="98.7" y="748" font-size="8.5" font-weight="normal">-11</text>
<line x1="120.37" y1="734.8" x2="120.37" y2="742.3" stroke="#000" stroke-width="1.4"/>
<line x1="127.56" y1="734.8" x2="127.56" y2="739.3" stroke="#000" stroke-width="1.0"/>
<line x1="131.77" y1="734.8" x2="131.77" y2="739.3" stroke="#000" stroke-width="1.0"/>
<line x1="134.75" y1="734.8" x2="134.75" y2="739.3" stroke="#000" stroke-width="1.0"/>
<line x1="137.07" y1="734.8" x2="137.07" y2="739.3" stroke="#000" stroke-width="1.0"/>
<line x1="138.96" y1="734.8" x2="138.96" y2="739.3" stroke="#000" stroke-width="1.0"/>
<line x1="140.56" y1="734.8" x2="140.56" y2="739.3" stroke="#000" stroke-width="1.0"/>
<line x1="141.94" y1="734.8" x2="141.94" y2="739.3" stroke="#000" stroke-width="1.0"/>
<line x1="143.17" y1="734.8" x2="143.17" y2="739.3" stroke="#000" stroke-width="1.0"/>
<text x="113.66" y="759" font-size="14" font-weight="normal">10</text>
<text x="122.59" y="748" font-size="8.5" font-weight="normal">-10</text>
<line x1="144.26" y1="734.8" x2="144.26" y2="742.3" stroke="#000" stroke-width="1.4"/>
<line x1="151.45" y1="734.8" x2="151.45" y2="739.3" stroke="#000" stroke-width="1.0"/>
<line x1="155.66" y1="734.8" x2="155.66" y2="739.3" stroke="#000" stroke-width="1.0"/>
<line x1="158.64" y1="734.8" x2="158.64" y2="739.3" stroke="#000" stroke-width="1.0"/>
<line x1="160.96" y1="734.8" x2="160.96" y2="739.3" stroke="#000" stroke-width="1.0"/>
<line x1="162.85" y1="734.8" x2="162.85" y2="739.3" stroke="#000" stroke-width="1.0"/>
<line x1="164.45" y1="734.8" x2="164.45" y2="739.3" stroke="#000" stroke-width="1.0"/>
<line x1="165.83" y1="734.8" x2="165.83" y2="739.3" stroke="#000" stroke-width="1.0"/>
<line x1="167.06" y1="734.8" x2="167.06" y2="739.3" stroke="#000" stroke-width="1.0"/>
<text x="137.55" y="759" font-size="14" font-weight="normal">10</text>
<text x="146.48" y="748" font-size="8.5" font-weight="normal">-9</text>
<line x1="168.15" y1="734.8" x2="168.15" y2="742.3" stroke="#000" stroke-width="1.4"/>
<line x1="175.34" y1="734.8" x2="175.34" y2="739.3" stroke="#000" stroke-width="1.0"/>
<line x1="179.55" y1="734.8" x2="179.55" y2="739.3" stroke="#000" stroke-width="1.0"/>
<line x1="182.53" y1="734.8" x2="182.53" y2="739.3" stroke="#000" stroke-width="1.0"/>
<line x1="184.85" y1="734.8" x2="184.85" y2="739.3" stroke="#000" stroke-width="1.0"/>
<line x1="186.74" y1="734.8" x2="186.74" y2="739.3" stroke="#000" stroke-width="1.0"/>
<line x1="188.34" y1="734.8" x2="188.34" y2="739.3" stroke="#000" stroke-width="1.0"/>
<line x1="189.72" y1="734.8" x2="189.72" y2="739.3" stroke="#000" stroke-width="1.0"/>
<line x1="190.95" y1="734.8" x2="190.95" y2="739.3" stroke="#000" stroke-width="1.0"/>
<text x="161.44" y="759" font-size="14" font-weight="normal">10</text>
<text x="170.37" y="748" font-size="8.5" font-weight="normal">-8</text>
<line x1="192.04" y1="734.8" x2="192.04" y2="742.3" stroke="#000" stroke-width="1.4"/>
<line x1="199.23" y1="734.8" x2="199.23" y2="739.3" stroke="#000" stroke-width="1.0"/>
<line x1="203.44" y1="734.8" x2="203.44" y2="739.3" stroke="#000" stroke-width="1.0"/>
<line x1="206.42" y1="734.8" x2="206.42" y2="739.3" stroke="#000" stroke-width="1.0"/>
<line x1="208.74" y1="734.8" x2="208.74" y2="739.3" stroke="#000" stroke-width="1.0"/>
<line x1="210.63" y1="734.8" x2="210.63" y2="739.3" stroke="#000" stroke-width="1.0"/>
<line x1="212.23" y1="734.8" x2="212.23" y2="739.3" stroke="#000" stroke-width="1.0"/>
<line x1="213.61" y1="734.8" x2="213.61" y2="739.3" stroke="#000" stroke-width="1.0"/>
<line x1="214.84" y1="734.8" x2="214.84" y2="739.3" stroke="#000" stroke-width="1.0"/>
<text x="185.33" y="759" font-size="14" font-weight="normal">10</text>
<text x="194.26" y="748" font-size="8.5" font-weight="normal">-7</text>
<line x1="215.93" y1="734.8" x2="215.93" y2="742.3" stroke="#000" stroke-width="1.4"/>
<line x1="223.12" y1="734.8" x2="223.12" y2="739.3" stroke="#000" stroke-width="1.0"/>
<line x1="227.33" y1="734.8" x2="227.33" y2="739.3" stroke="#000" stroke-width="1.0"/>
<line x1="230.31" y1="734.8" x2="230.31" y2="739.3" stroke="#000" stroke-width="1.0"/>
<line x1="232.63" y1="734.8" x2="232.63" y2="739.3" stroke="#000" stroke-width="1.0"/>
<line x1="234.52" y1="734.8" x2="234.52" y2="739.3" stroke="#000" stroke-width="1.0"/>
<line x1="236.12" y1="734.8" x2="236.12" y2="739.3" stroke="#000" stroke-width="1.0"/>
<line x1="237.5" y1="734.8" x2="237.5" y2="739.3" stroke="#000" stroke-width="1.0"/>
<line x1="238.73" y1="734.8" x2="238.73" y2="739.3" stroke="#000" stroke-width="1.0"/>
<text x="209.22" y="759" font-size="14" font-weight="normal">10</text>
<text x="218.15" y="748" font-size="8.5" font-weight="normal">-6</text>
<line x1="239.82" y1="734.8" x2="239.82" y2="742.3" stroke="#000" stroke-width="1.4"/>
<text x="233.11" y="759" font-size="14" font-weight="normal">10</text>
<text x="242.04" y="748" font-size="8.5" font-weight="normal">-5</text>
<polyline fill="none" stroke="#000" stroke-width="1.5" points="48.7,734.8 72.59,734.8 96.48,734.8 120.37,734.8 144.26,734.8 168.15,731.82 192.04,667.92 215.93,632.13 239.82,632.13"/>
<circle cx="48.7" cy="734.8" r="4.3"/>
<circle cx="72.59" cy="734.8" r="4.3"/>
<circle cx="96.48" cy="734.8" r="4.3"/>
<circle cx="120.37" cy="734.8" r="4.3"/>
<circle cx="144.26" cy="734.8" r="4.3"/>
<circle cx="168.15" cy="731.82" r="4.3"/>
<circle cx="192.04" cy="667.92" r="4.3"/>
<circle cx="215.93" cy="632.13" r="4.3"/>
<circle cx="239.82" cy="632.13" r="4.3"/>
<text x="59.59" y="618.3" font-size="14" font-weight="normal" textLength="138.88" lengthAdjust="spacingAndGlyphs">GSPTVFTSGLPAFVS</text>
<line x1="60" y1="620.9" x2="88.75" y2="620.9" stroke="#222" stroke-width="1.2"/>
<text x="70.26" y="781.8" font-size="14" font-weight="normal" textLength="153.34" lengthAdjust="spacingAndGlyphs">Peptide concentration M</text>
<text transform="translate(15.8,0) rotate(-90)" x="-706.44" y="0" font-size="14" textLength="75.56" lengthAdjust="spacingAndGlyphs">IFN-<tspan font-family="Liberation Serif" font-style="italic">γ</tspan> ng/mL</text>
<text x="265.95" y="597.9" font-size="17" font-weight="bold" textLength="11.63" lengthAdjust="spacingAndGlyphs">H</text>
<line x1="312" y1="607" x2="312" y2="735.6" stroke="#000" stroke-width="1.6"/>
<line x1="312" y1="734.8" x2="503.54" y2="734.8" stroke="#000" stroke-width="1.6"/>
<line x1="305" y1="606.8" x2="312" y2="606.8" stroke="#000" stroke-width="1.6"/>
<text x="286.52" y="611.2" font-size="14" font-weight="normal">40</text>
<line x1="305" y1="638.8" x2="312" y2="638.8" stroke="#000" stroke-width="1.6"/>
<text x="286.52" y="643.2" font-size="14" font-weight="normal">30</text>
<line x1="305" y1="670.8" x2="312" y2="670.8" stroke="#000" stroke-width="1.6"/>
<text x="286.52" y="675.2" font-size="14" font-weight="normal">20</text>
<line x1="305" y1="702.8" x2="312" y2="702.8" stroke="#000" stroke-width="1.6"/>
<text x="286.52" y="707.2" font-size="14" font-weight="normal">10</text>
<line x1="305" y1="734.8" x2="312" y2="734.8" stroke="#000" stroke-width="1.6"/>
<text x="294.29" y="739.2" font-size="14" font-weight="normal">0</text>
<line x1="312.5" y1="734.8" x2="312.5" y2="742.3" stroke="#000" stroke-width="1.4"/>
<line x1="319.69" y1="734.8" x2="319.69" y2="739.3" stroke="#000" stroke-width="1.0"/>
<line x1="323.89" y1="734.8" x2="323.89" y2="739.3" stroke="#000" stroke-width="1.0"/>
<line x1="326.88" y1="734.8" x2="326.88" y2="739.3" stroke="#000" stroke-width="1.0"/>
<line x1="329.19" y1="734.8" x2="329.19" y2="739.3" stroke="#000" stroke-width="1.0"/>
<line x1="331.08" y1="734.8" x2="331.08" y2="739.3" stroke="#000" stroke-width="1.0"/>
<line x1="332.68" y1="734.8" x2="332.68" y2="739.3" stroke="#000" stroke-width="1.0"/>
<line x1="334.07" y1="734.8" x2="334.07" y2="739.3" stroke="#000" stroke-width="1.0"/>
<line x1="335.29" y1="734.8" x2="335.29" y2="739.3" stroke="#000" stroke-width="1.0"/>
<text x="305.79" y="759" font-size="14" font-weight="normal">10</text>
<text x="314.72" y="748" font-size="8.5" font-weight="normal">-13</text>
<line x1="336.38" y1="734.8" x2="336.38" y2="742.3" stroke="#000" stroke-width="1.4"/>
<line x1="343.57" y1="734.8" x2="343.57" y2="739.3" stroke="#000" stroke-width="1.0"/>
<line x1="347.77" y1="734.8" x2="347.77" y2="739.3" stroke="#000" stroke-width="1.0"/>
<line x1="350.76" y1="734.8" x2="350.76" y2="739.3" stroke="#000" stroke-width="1.0"/>
<line x1="353.07" y1="734.8" x2="353.07" y2="739.3" stroke="#000" stroke-width="1.0"/>
<line x1="354.96" y1="734.8" x2="354.96" y2="739.3" stroke="#000" stroke-width="1.0"/>
<line x1="356.56" y1="734.8" x2="356.56" y2="739.3" stroke="#000" stroke-width="1.0"/>
<line x1="357.95" y1="734.8" x2="357.95" y2="739.3" stroke="#000" stroke-width="1.0"/>
<line x1="359.17" y1="734.8" x2="359.17" y2="739.3" stroke="#000" stroke-width="1.0"/>
<text x="329.67" y="759" font-size="14" font-weight="normal">10</text>
<text x="338.6" y="748" font-size="8.5" font-weight="normal">-12</text>
<line x1="360.26" y1="734.8" x2="360.26" y2="742.3" stroke="#000" stroke-width="1.4"/>
<line x1="367.45" y1="734.8" x2="367.45" y2="739.3" stroke="#000" stroke-width="1.0"/>
<line x1="371.65" y1="734.8" x2="371.65" y2="739.3" stroke="#000" stroke-width="1.0"/>
<line x1="374.64" y1="734.8" x2="374.64" y2="739.3" stroke="#000" stroke-width="1.0"/>
<line x1="376.95" y1="734.8" x2="376.95" y2="739.3" stroke="#000" stroke-width="1.0"/>
<line x1="378.84" y1="734.8" x2="378.84" y2="739.3" stroke="#000" stroke-width="1.0"/>
<line x1="380.44" y1="734.8" x2="380.44" y2="739.3" stroke="#000" stroke-width="1.0"/>
<line x1="381.83" y1="734.8" x2="381.83" y2="739.3" stroke="#000" stroke-width="1.0"/>
<line x1="383.05" y1="734.8" x2="383.05" y2="739.3" stroke="#000" stroke-width="1.0"/>
<text x="353.55" y="759" font-size="14" font-weight="normal">10</text>
<text x="362.48" y="748" font-size="8.5" font-weight="normal">-11</text>
<line x1="384.14" y1="734.8" x2="384.14" y2="742.3" stroke="#000" stroke-width="1.4"/>
<line x1="391.33" y1="734.8" x2="391.33" y2="739.3" stroke="#000" stroke-width="1.0"/>
<line x1="395.53" y1="734.8" x2="395.53" y2="739.3" stroke="#000" stroke-width="1.0"/>
<line x1="398.52" y1="734.8" x2="398.52" y2="739.3" stroke="#000" stroke-width="1.0"/>
<line x1="400.83" y1="734.8" x2="400.83" y2="739.3" stroke="#000" stroke-width="1.0"/>
<line x1="402.72" y1="734.8" x2="402.72" y2="739.3" stroke="#000" stroke-width="1.0"/>
<line x1="404.32" y1="734.8" x2="404.32" y2="739.3" stroke="#000" stroke-width="1.0"/>
<line x1="405.71" y1="734.8" x2="405.71" y2="739.3" stroke="#000" stroke-width="1.0"/>
<line x1="406.93" y1="734.8" x2="406.93" y2="739.3" stroke="#000" stroke-width="1.0"/>
<text x="377.43" y="759" font-size="14" font-weight="normal">10</text>
<text x="386.36" y="748" font-size="8.5" font-weight="normal">-10</text>
<line x1="408.02" y1="734.8" x2="408.02" y2="742.3" stroke="#000" stroke-width="1.4"/>
<line x1="415.21" y1="734.8" x2="415.21" y2="739.3" stroke="#000" stroke-width="1.0"/>
<line x1="419.41" y1="734.8" x2="419.41" y2="739.3" stroke="#000" stroke-width="1.0"/>
<line x1="422.4" y1="734.8" x2="422.4" y2="739.3" stroke="#000" stroke-width="1.0"/>
<line x1="424.71" y1="734.8" x2="424.71" y2="739.3" stroke="#000" stroke-width="1.0"/>
<line x1="426.6" y1="734.8" x2="426.6" y2="739.3" stroke="#000" stroke-width="1.0"/>
<line x1="428.2" y1="734.8" x2="428.2" y2="739.3" stroke="#000" stroke-width="1.0"/>
<line x1="429.59" y1="734.8" x2="429.59" y2="739.3" stroke="#000" stroke-width="1.0"/>
<line x1="430.81" y1="734.8" x2="430.81" y2="739.3" stroke="#000" stroke-width="1.0"/>
<text x="401.31" y="759" font-size="14" font-weight="normal">10</text>
<text x="410.24" y="748" font-size="8.5" font-weight="normal">-9</text>
<line x1="431.9" y1="734.8" x2="431.9" y2="742.3" stroke="#000" stroke-width="1.4"/>
<line x1="439.09" y1="734.8" x2="439.09" y2="739.3" stroke="#000" stroke-width="1.0"/>
<line x1="443.29" y1="734.8" x2="443.29" y2="739.3" stroke="#000" stroke-width="1.0"/>
<line x1="446.28" y1="734.8" x2="446.28" y2="739.3" stroke="#000" stroke-width="1.0"/>
<line x1="448.59" y1="734.8" x2="448.59" y2="739.3" stroke="#000" stroke-width="1.0"/>
<line x1="450.48" y1="734.8" x2="450.48" y2="739.3" stroke="#000" stroke-width="1.0"/>
<line x1="452.08" y1="734.8" x2="452.08" y2="739.3" stroke="#000" stroke-width="1.0"/>
<line x1="453.47" y1="734.8" x2="453.47" y2="739.3" stroke="#000" stroke-width="1.0"/>
<line x1="454.69" y1="734.8" x2="454.69" y2="739.3" stroke="#000" stroke-width="1.0"/>
<text x="425.19" y="759" font-size="14" font-weight="normal">10</text>
<text x="434.12" y="748" font-size="8.5" font-weight="normal">-8</text>
<line x1="455.78" y1="734.8" x2="455.78" y2="742.3" stroke="#000" stroke-width="1.4"/>
<line x1="462.97" y1="734.8" x2="462.97" y2="739.3" stroke="#000" stroke-width="1.0"/>
<line x1="467.17" y1="734.8" x2="467.17" y2="739.3" stroke="#000" stroke-width="1.0"/>
<line x1="470.16" y1="734.8" x2="470.16" y2="739.3" stroke="#000" stroke-width="1.0"/>
<line x1="472.47" y1="734.8" x2="472.47" y2="739.3" stroke="#000" stroke-width="1.0"/>
<line x1="474.36" y1="734.8" x2="474.36" y2="739.3" stroke="#000" stroke-width="1.0"/>
<line x1="475.96" y1="734.8" x2="475.96" y2="739.3" stroke="#000" stroke-width="1.0"/>
<line x1="477.35" y1="734.8" x2="477.35" y2="739.3" stroke="#000" stroke-width="1.0"/>
<line x1="478.57" y1="734.8" x2="478.57" y2="739.3" stroke="#000" stroke-width="1.0"/>
<text x="449.06" y="759" font-size="14" font-weight="normal">10</text>
<text x="458" y="748" font-size="8.5" font-weight="normal">-7</text>
<line x1="479.66" y1="734.8" x2="479.66" y2="742.3" stroke="#000" stroke-width="1.4"/>
<line x1="486.85" y1="734.8" x2="486.85" y2="739.3" stroke="#000" stroke-width="1.0"/>
<line x1="491.05" y1="734.8" x2="491.05" y2="739.3" stroke="#000" stroke-width="1.0"/>
<line x1="494.04" y1="734.8" x2="494.04" y2="739.3" stroke="#000" stroke-width="1.0"/>
<line x1="496.35" y1="734.8" x2="496.35" y2="739.3" stroke="#000" stroke-width="1.0"/>
<line x1="498.24" y1="734.8" x2="498.24" y2="739.3" stroke="#000" stroke-width="1.0"/>
<line x1="499.84" y1="734.8" x2="499.84" y2="739.3" stroke="#000" stroke-width="1.0"/>
<line x1="501.23" y1="734.8" x2="501.23" y2="739.3" stroke="#000" stroke-width="1.0"/>
<line x1="502.45" y1="734.8" x2="502.45" y2="739.3" stroke="#000" stroke-width="1.0"/>
<text x="472.94" y="759" font-size="14" font-weight="normal">10</text>
<text x="481.88" y="748" font-size="8.5" font-weight="normal">-6</text>
<line x1="503.54" y1="734.8" x2="503.54" y2="742.3" stroke="#000" stroke-width="1.4"/>
<text x="496.82" y="759" font-size="14" font-weight="normal">10</text>
<text x="505.76" y="748" font-size="8.5" font-weight="normal">-5</text>
<polyline fill="none" stroke="#000" stroke-width="1.5" points="312.5,734.8 336.38,734.8 360.26,734.8 384.14,733.52 408.02,706 431.9,659.28 455.78,635.28 479.66,627.6 503.54,637.2"/>
<circle cx="312.5" cy="734.8" r="4.3"/>
<circle cx="336.38" cy="734.8" r="4.3"/>
<circle cx="360.26" cy="734.8" r="4.3"/>
<circle cx="384.14" cy="733.52" r="4.3"/>
<circle cx="408.02" cy="706" r="4.3"/>
<circle cx="431.9" cy="659.28" r="4.3"/>
<circle cx="455.78" cy="635.28" r="4.3"/>
<circle cx="479.66" cy="627.6" r="4.3"/>
<circle cx="503.54" cy="637.2" r="4.3"/>
<text x="326.66" y="618.3" font-size="14" font-weight="normal" textLength="143.78" lengthAdjust="spacingAndGlyphs">EYRYVLRTSPPHRPG</text>
<line x1="327.5" y1="620.9" x2="355.75" y2="620.9" stroke="#222" stroke-width="1.2"/>
<text x="329.36" y="781.8" font-size="14" font-weight="normal" textLength="153.34" lengthAdjust="spacingAndGlyphs">Peptide concentration M</text>
<text transform="translate(280,0) rotate(-90)" x="-706.44" y="0" font-size="14" textLength="75.56" lengthAdjust="spacingAndGlyphs">IFN-<tspan font-family="Liberation Serif" font-style="italic">γ</tspan> ng/mL</text>
<text x="1.08" y="810" font-size="17" font-weight="bold" textLength="4.79" lengthAdjust="spacingAndGlyphs">I</text>
<defs><clipPath id="hc"><rect x="202" y="846" width="189.5" height="32"/></clipPath></defs>
<path clip-path="url(#hc)" d="M171.8,878 L198.94,846 M181.05,878 L208.19,846 M190.3,878 L217.44,846 M199.55,878 L226.69,846 M208.8,878 L235.94,846 M218.05,878 L245.19,846 M227.3,878 L254.44,846 M236.55,878 L263.69,846 M245.8,878 L272.94,846 M255.05,878 L282.19,846 M264.3,878 L291.44,846 M273.55,878 L300.69,846 M282.8,878 L309.94,846 M292.05,878 L319.19,846 M301.3,878 L328.44,846 M310.55,878 L337.69,846 M319.8,878 L346.94,846 M329.05,878 L356.19,846 M338.3,878 L365.44,846 M347.55,878 L374.69,846 M356.8,878 L383.94,846 M366.05,878 L393.19,846 M375.3,878 L402.44,846 M384.55,878 L411.69,846 M393.8,878 L420.94,846 M403.05,878 L430.19,846 M412.3,878 L439.44,846 M421.55,878 L448.69,846 M430.8,878 L457.94,846" stroke="#000" stroke-width="1.9" fill="none"/>
<rect x="20" y="846" width="465" height="32" fill="none" stroke="#000" stroke-width="1.8"/>
<line x1="33.8" y1="846" x2="33.8" y2="878" stroke="#000" stroke-width="1.6"/>
<line x1="46.3" y1="846" x2="46.3" y2="878" stroke="#000" stroke-width="1.6"/>
<line x1="51.3" y1="846" x2="51.3" y2="878" stroke="#000" stroke-width="1.6"/>
<line x1="96.4" y1="846" x2="96.4" y2="878" stroke="#000" stroke-width="1.6"/>
<line x1="99.3" y1="846" x2="99.3" y2="878" stroke="#000" stroke-width="1.6"/>
<line x1="130.8" y1="846" x2="130.8" y2="878" stroke="#000" stroke-width="1.6"/>
<line x1="412.8" y1="846" x2="412.8" y2="878" stroke="#000" stroke-width="1.6"/>
<line x1="439.2" y1="846" x2="439.2" y2="878" stroke="#000" stroke-width="1.6"/>
<line x1="442.5" y1="846" x2="442.5" y2="878" stroke="#000" stroke-width="1.6"/>
<line x1="451.4" y1="846" x2="451.4" y2="878" stroke="#000" stroke-width="1.6"/>
<text x="18.4" y="822.2" font-size="14" font-weight="normal" textLength="31.06" lengthAdjust="spacingAndGlyphs">GDD</text>
<text x="37.7" y="834.3" font-size="14" font-weight="normal" textLength="29.63" lengthAdjust="spacingAndGlyphs">GSP</text>
<text x="74.71" y="822.2" font-size="14" font-weight="normal" textLength="25.67" lengthAdjust="spacingAndGlyphs">LAP</text>
<text x="96.18" y="834.3" font-size="14" font-weight="normal" textLength="27.15" lengthAdjust="spacingAndGlyphs">LRS</text>
<text x="129.43" y="834.3" font-size="14" font-weight="normal" textLength="34.05" lengthAdjust="spacingAndGlyphs">WGD</text>
<text x="233.34" y="815.4" font-size="14" font-weight="normal" textLength="37.9" lengthAdjust="spacingAndGlyphs">LANA</text>
<text x="398.58" y="834.3" font-size="14" font-weight="normal" textLength="28.87" lengthAdjust="spacingAndGlyphs">EYR</text>
<text x="437.05" y="834.3" font-size="14" font-weight="normal" textLength="31.18" lengthAdjust="spacingAndGlyphs">FGG</text>
<text x="38.8" y="898.5" font-size="14" font-weight="normal" textLength="25.66" lengthAdjust="spacingAndGlyphs">PAF</text>
<text x="67.66" y="898.5" font-size="14" font-weight="normal" textLength="58.53" lengthAdjust="spacingAndGlyphs">LAP/LRS</text>
<text x="404.76" y="898.7" font-size="14" font-weight="normal" textLength="30.8" lengthAdjust="spacingAndGlyphs">RRD</text>
<text x="442.94" y="898.7" font-size="14" font-weight="normal" textLength="32.41" lengthAdjust="spacingAndGlyphs">CQW</text>
<line x1="33.9" y1="825.6" x2="33.9" y2="842.4" stroke="#000" stroke-width="1.2"/>
<line x1="46.4" y1="837" x2="46.4" y2="842.4" stroke="#000" stroke-width="1.2"/>
<line x1="88.75" y1="824.5" x2="96.25" y2="842" stroke="#000" stroke-width="1.2"/>
<line x1="108.75" y1="836.25" x2="99.5" y2="842" stroke="#000" stroke-width="1.2"/>
<line x1="141.5" y1="836.3" x2="130.8" y2="841.5" stroke="#000" stroke-width="1.2"/>
<line x1="412.8" y1="836.7" x2="412.8" y2="842.9" stroke="#000" stroke-width="1.2"/>
<line x1="451.4" y1="836.7" x2="451.4" y2="842.9" stroke="#000" stroke-width="1.2"/>
<line x1="51.3" y1="881.2" x2="51.3" y2="885.5" stroke="#000" stroke-width="1.2"/>
<line x1="97.5" y1="881" x2="97.5" y2="885.5" stroke="#000" stroke-width="1.2"/>
<line x1="95.8" y1="881.3" x2="99.2" y2="881.3" stroke="#000" stroke-width="1.0"/>
<line x1="425.8" y1="886.5" x2="441.4" y2="880.6" stroke="#000" stroke-width="1.2"/>
<line x1="441.4" y1="880.6" x2="454.9" y2="886.5" stroke="#000" stroke-width="1.2"/>
</svg>
</body></html>
